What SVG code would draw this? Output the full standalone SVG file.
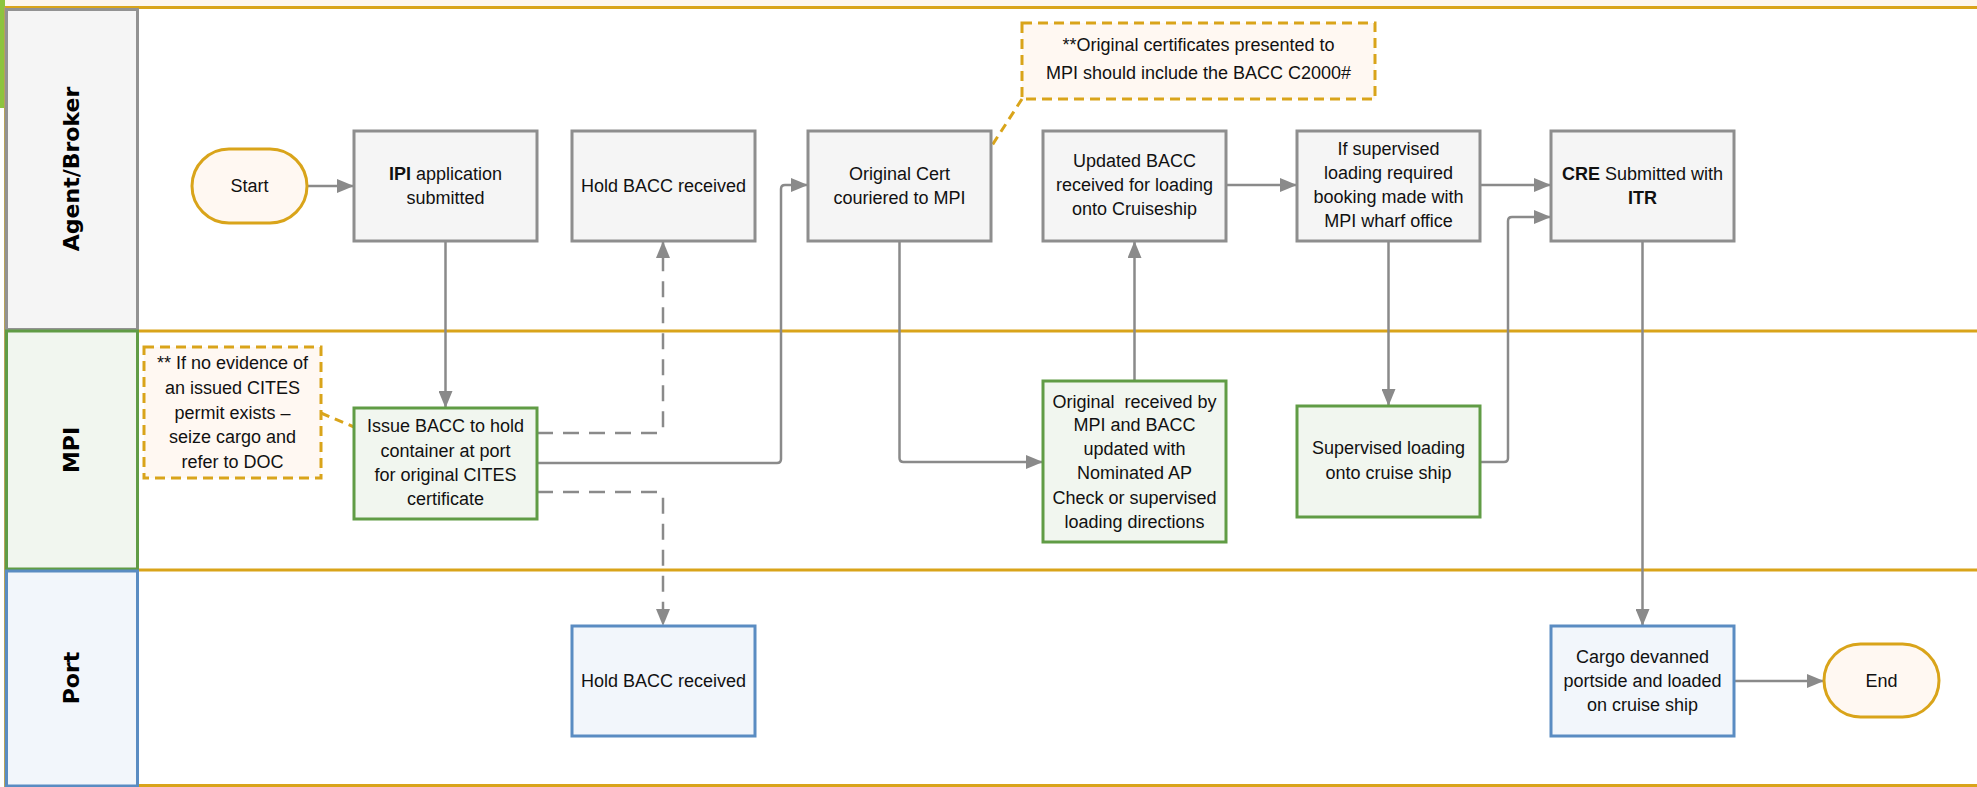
<svg xmlns="http://www.w3.org/2000/svg" width="1977" height="787" viewBox="0 0 1977 787">
<defs>
<style>
.lanehdr{font-family:"DejaVu Sans",Verdana,sans-serif;font-weight:bold;font-size:22px;fill:#000;text-anchor:middle;dominant-baseline:central}
.t{font-family:"Liberation Sans",Arial,sans-serif;font-size:18px;fill:#111;text-anchor:middle}
.b{font-weight:bold}
.gray{fill:#f5f5f5;stroke:#8e8e8e;stroke-width:3}
.green{fill:#f1f6ef;stroke:#609c45;stroke-width:3}
.blue{fill:#f2f6fb;stroke:#5a8cc2;stroke-width:3}
.term{fill:#fff8f2;stroke:#d9a41a;stroke-width:3}
.note{fill:#fff8f2;stroke:#d9a41a;stroke-width:3;stroke-dasharray:10 6}
.lane{stroke:#d9a41a;stroke-width:3;fill:none}
.c{fill:none;stroke:#8a8a8a;stroke-width:2.5}
.ca{fill:none;stroke:#8a8a8a;stroke-width:2.5;marker-end:url(#arr)}
.dash{stroke-dasharray:16 10}
.nl{fill:none;stroke:#d9a41a;stroke-width:3;stroke-dasharray:9 6}
</style>
<marker id="arr" viewBox="0 0 17 14" refX="17" refY="7" markerWidth="17" markerHeight="14" markerUnits="userSpaceOnUse" orient="auto">
<path d="M0,0 L17,7 L0,14 z" fill="#8a8a8a"/>
</marker>
</defs>
<rect x="0" y="0" width="1977" height="787" fill="#ffffff"/>
<rect x="0" y="0" width="1977" height="7" fill="#fdf6ee"/>
<rect x="0" y="0" width="5" height="108" fill="#8cc43f"/>

<g id="lanes">
<line class="lane" x1="5" y1="7.5" x2="1977" y2="7.5"/>
<line class="lane" x1="138" y1="331" x2="1977" y2="331"/>
<line class="lane" x1="138" y1="570" x2="1977" y2="570"/>
<line class="lane" x1="138" y1="785.5" x2="1977" y2="785.5"/>
<line x1="5" y1="7" x2="5" y2="787" stroke="#b8a25a" stroke-width="2"/>
<g id="lane-agent">
<rect x="6.5" y="9.5" width="131" height="320" fill="#f5f5f5" stroke="#929292" stroke-width="3"/>
<text class="lanehdr" transform="translate(71,169) rotate(-90)">Agent/Broker</text>
</g>
<g id="lane-mpi">
<rect x="6.5" y="331" width="131" height="238" fill="#f1f6ef" stroke="#609c45" stroke-width="3"/>
<text class="lanehdr" transform="translate(71,450) rotate(-90)">MPI</text>
</g>
<g id="lane-port">
<rect x="6.5" y="571" width="131" height="215" fill="#f2f6fb" stroke="#5a8cc2" stroke-width="3"/>
<text class="lanehdr" transform="translate(71,678) rotate(-90)">Port</text>
</g>
</g>

<g id="connectors">
<path class="ca" d="M307,186 H354"/>
<path class="ca" d="M445.5,241 V408"/>
<path class="ca dash" d="M537,433 H659 Q663,433 663,429 V241"/>
<path class="ca" d="M537,463 H777 Q781,463 781,459 V189 Q781,185 785,185 H808"/>
<path class="ca dash" d="M537,492 H659 Q663,492 663,496 V626"/>
<path class="ca" d="M899.5,241 V458 Q899.5,462 903.5,462 H1043"/>
<path class="ca" d="M1134.5,381 V241"/>
<path class="ca" d="M1226,185 H1297"/>
<path class="ca" d="M1480,185 H1551"/>
<path class="ca" d="M1388.5,241 V406"/>
<path class="ca" d="M1480,462 H1504 Q1508,462 1508,458 V221 Q1508,217 1512,217 H1551"/>
<path class="ca" d="M1642.5,241 V626"/>
<path class="ca" d="M1734,681 H1824"/>
<path class="nl" d="M321,413 L354,427"/>
<path class="nl" d="M1022,99 L991,147"/>
</g>

<g id="start">
<rect class="term" x="192" y="149" width="115" height="74" rx="37" ry="37"/>
<text class="t" x="249.5" y="192">Start</text>
</g>
<g id="ipi">
<rect class="gray" x="354" y="131" width="183" height="110"/>
<text class="t" x="445.5" y="180"><tspan class="b">IPI</tspan> application</text>
<text class="t" x="445.5" y="204">submitted</text>
</g>
<g id="hold-agent">
<rect class="gray" x="572" y="131" width="183" height="110"/>
<text class="t" x="663.5" y="192">Hold BACC received</text>
</g>
<g id="orig-cert">
<rect class="gray" x="808" y="131" width="183" height="110"/>
<text class="t" x="899.5" y="180">Original Cert</text>
<text class="t" x="899.5" y="204">couriered to MPI</text>
</g>
<g id="updated-bacc">
<rect class="gray" x="1043" y="131" width="183" height="110"/>
<text class="t" x="1134.5" y="167">Updated BACC</text>
<text class="t" x="1134.5" y="191">received for loading</text>
<text class="t" x="1134.5" y="215">onto Cruiseship</text>
</g>
<g id="if-supervised">
<rect class="gray" x="1297" y="131" width="183" height="110"/>
<text class="t" x="1388.5" y="155">If supervised</text>
<text class="t" x="1388.5" y="179">loading required</text>
<text class="t" x="1388.5" y="203">booking made with</text>
<text class="t" x="1388.5" y="227">MPI wharf office</text>
</g>
<g id="cre">
<rect class="gray" x="1551" y="131" width="183" height="110"/>
<text class="t" x="1642.5" y="180"><tspan class="b">CRE</tspan> Submitted with</text>
<text class="t b" x="1642.5" y="204">ITR</text>
</g>
<g id="note-top">
<rect class="note" x="1022" y="23" width="353" height="76"/>
<text class="t" x="1198.5" y="51">**Original certificates presented to</text>
<text class="t" x="1198.5" y="79">MPI should include the BACC C2000#</text>
</g>
<g id="note-left">
<rect class="note" x="144" y="347" width="177" height="131"/>
<text class="t" x="232.5" y="369">** If no evidence of</text>
<text class="t" x="232.5" y="394">an issued CITES</text>
<text class="t" x="232.5" y="419">permit exists –</text>
<text class="t" x="232.5" y="443">seize cargo and</text>
<text class="t" x="232.5" y="468">refer to DOC</text>
</g>
<g id="issue-bacc">
<rect class="green" x="354" y="408" width="183" height="111"/>
<text class="t" x="445.5" y="432">Issue BACC to hold</text>
<text class="t" x="445.5" y="457">container at port</text>
<text class="t" x="445.5" y="481">for original CITES</text>
<text class="t" x="445.5" y="505">certificate</text>
</g>
<g id="original-received">
<rect class="green" x="1043" y="381" width="183" height="161"/>
<text class="t" x="1134.5" y="408" xml:space="preserve">Original  received by</text>
<text class="t" x="1134.5" y="431">MPI and BACC</text>
<text class="t" x="1134.5" y="455">updated with</text>
<text class="t" x="1134.5" y="479">Nominated AP</text>
<text class="t" x="1134.5" y="504">Check or supervised</text>
<text class="t" x="1134.5" y="528">loading directions</text>
</g>
<g id="supervised-loading">
<rect class="green" x="1297" y="406" width="183" height="111"/>
<text class="t" x="1388.5" y="454">Supervised loading</text>
<text class="t" x="1388.5" y="479">onto cruise ship</text>
</g>
<g id="hold-port">
<rect class="blue" x="572" y="626" width="183" height="110"/>
<text class="t" x="663.5" y="687">Hold BACC received</text>
</g>
<g id="cargo">
<rect class="blue" x="1551" y="626" width="183" height="110"/>
<text class="t" x="1642.5" y="663">Cargo devanned</text>
<text class="t" x="1642.5" y="687">portside and loaded</text>
<text class="t" x="1642.5" y="711">on cruise ship</text>
</g>
<g id="end">
<rect class="term" x="1824" y="644" width="115" height="73" rx="36.5" ry="36.5"/>
<text class="t" x="1881.5" y="687">End</text>
</g>
</svg>
